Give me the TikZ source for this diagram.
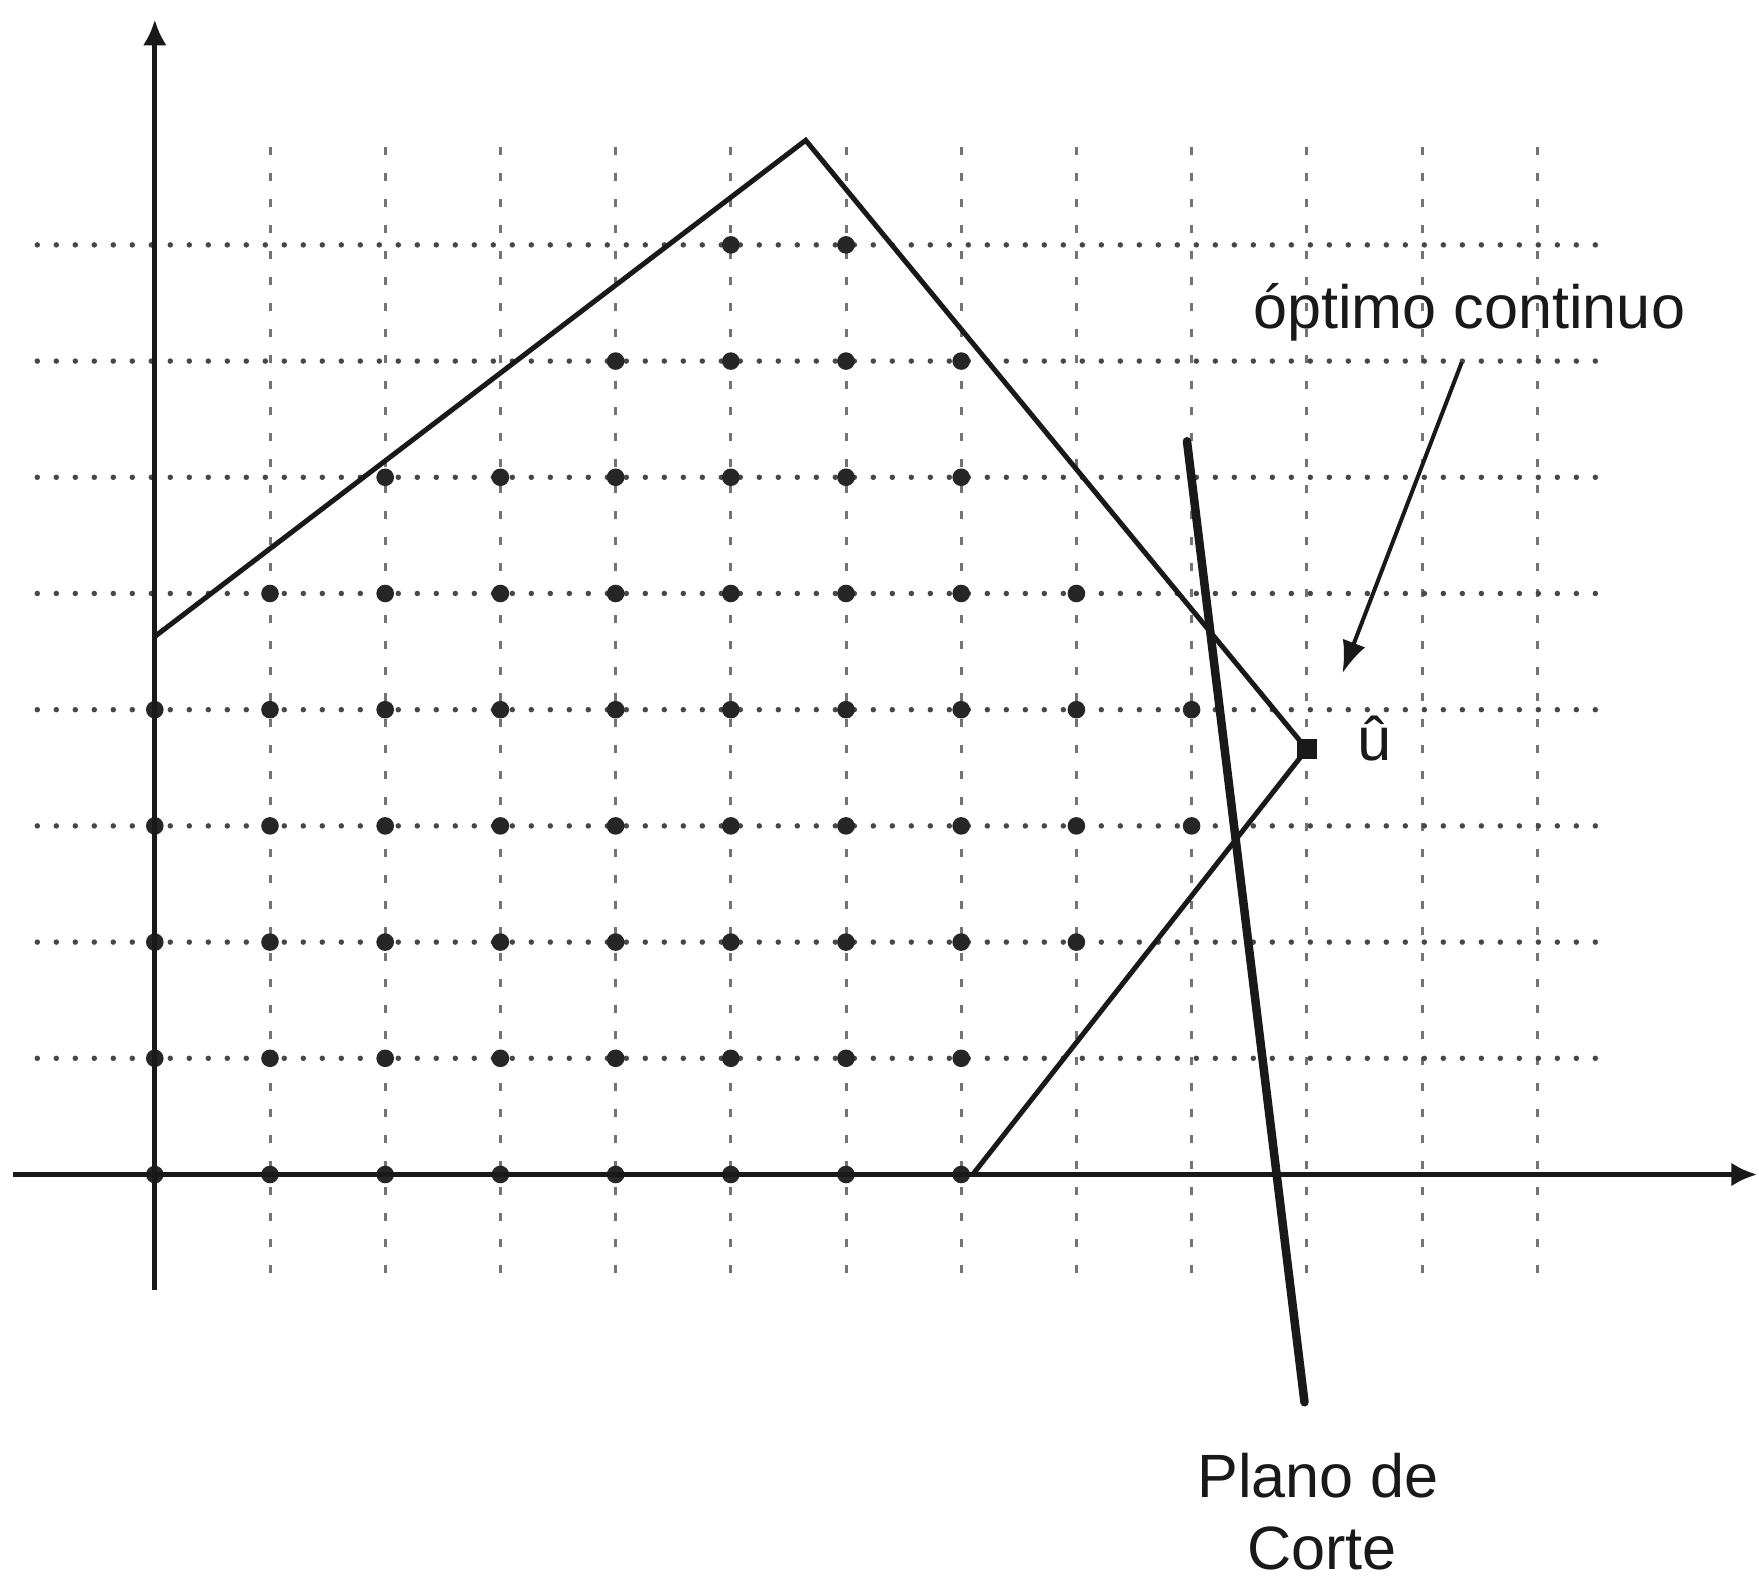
\documentclass[tikz,border=0pt]{standalone}
\usepackage{fontspec}
\setmainfont{Liberation Sans}
\usetikzlibrary{arrows.meta}
\begin{document}
\begin{tikzpicture}[x=1.152cm,y=1.162cm,
  axis/.style={line width=0.05cm, draw=black!90, -{Latex[length=0.26cm,width=0.24cm]}},
  hgrid/.style={line width=0.055cm, draw=black!72, line cap=round, dash pattern=on 0pt off 0.19cm},
  vgrid/.style={line width=0.03cm, draw=black!55, dash pattern=on 0.08cm off 0.18cm},
  region/.style={line width=0.05cm, draw=black!90, line join=miter},
  cutline/.style={line width=0.085cm, draw=black!90, line cap=round},
  lattice/.style={fill=black!85},
  lbl/.style={font=\fontsize{17.4}{20.8}\selectfont, inner sep=0pt, text=black!90},
  pointer/.style={line width=0.04cm, draw=black!90, -{Latex[length=0.32cm,width=0.24cm]}}
]
\useasboundingbox (-1.548cm,-4.075cm) rectangle (16.042cm,11.745cm);
\fill[white] (-1.548cm,-4.075cm) rectangle (16.042cm,11.745cm);
% grid
\foreach \k in {1,...,12} \draw[vgrid] (\k,-0.85) -- (\k,8.9);
\foreach \k in {1,...,8} \draw[hgrid] (-1.02,\k) -- (12.54,\k);
% lattice points
\foreach \yy/\a/\b in {0/0/7,1/0/7,2/0/8,3/0/9,4/0/9,5/1/8,6/2/7,7/4/7,8/5/6}
  \foreach \xx in {\a,...,\b} \fill[lattice] (\xx,\yy) circle (0.088cm);
% axes
\coordinate (xl) at (-1.23,0);
\coordinate (xr) at (13.91,0);
\coordinate (yb) at (0,-0.99);
\coordinate (yt) at (0,9.94);
\draw[axis] (xl) -- (xr);
\draw[axis] (yb) -- (yt);
% feasible region
\coordinate (A) at (0,4.63);
\coordinate (B) at (5.65,8.9);
\coordinate (C) at (10,3.66);
\coordinate (D) at (7.1,0);
\draw[region] (A) -- (B) -- (C) -- (D);
\node[fill=black!90, minimum size=0.2cm, inner sep=0pt] (sq) at (C) {};
% cutting plane
\coordinate (ct) at (8.96,6.31);
\coordinate (cb) at (9.98,-1.96);
\draw[cutline] (ct) -- (cb);
% labels
\node[lbl, anchor=base] (opt) at (11.41,7.28) {óptimo continuo};
\node[lbl, anchor=base] (uhat) at (10.585,3.56) {û};
\node[lbl, anchor=base] (plano) at (10.1,-2.78) {Plano de};
\node[lbl, anchor=base] (corte) at (10.13,-3.40) {Corte};
\coordinate (pstart) at (11.345,6.99);
\coordinate (pend) at (10.31,4.315);
\draw[pointer] (pstart) -- (pend);
\end{tikzpicture}
\end{document}
